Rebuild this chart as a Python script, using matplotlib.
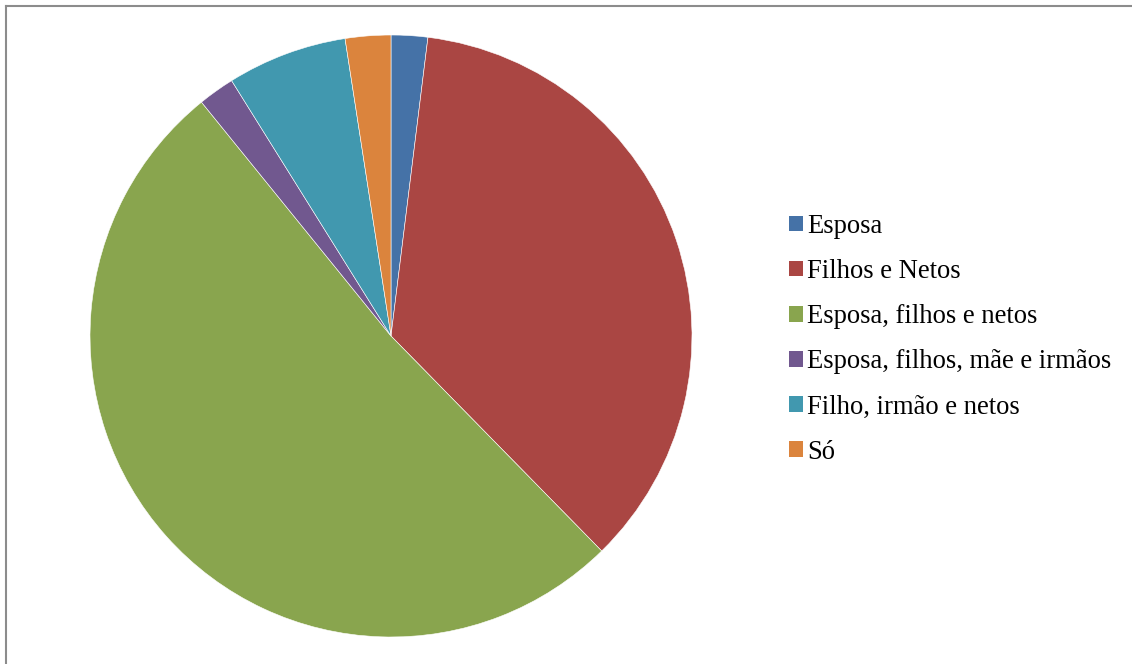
import matplotlib.pyplot as plt
from matplotlib.lines import Line2D
from matplotlib.patches import Patch

## Data ##

labels = ["Esposa", "Filhos e Netos", "Esposa, filhos e netos",
          "Esposa, filhos, mãe e irmãos", "Filho, irmão e netos", "Só"]
values = [1.96, 35.7, 51.5, 1.96, 6.44, 2.44]
colors = ["#4572A7", "#AA4643", "#89A54E", "#71588F", "#4198AF", "#DB843D"]

####

W, H = 1132, 664
fig = plt.figure(figsize=(W / 100, H / 100), dpi=100)
fig.patch.set_facecolor("white")

# pie axes, centre (391, 336) px, radius 301 px
cx, cy, r = 391, 336, 301
ax = fig.add_axes([(cx - r) / W, (H - cy - r) / H, 2 * r / W, 2 * r / H])
ax.pie(values, colors=colors, startangle=90, counterclock=False,
       wedgeprops=dict(edgecolor="white", linewidth=0.4), radius=1.0)
ax.set_xlim(-1, 1)
ax.set_ylim(-1, 1)
ax.set_aspect("equal")
ax.axis("off")

# legend
handles = [Patch(facecolor=c, edgecolor="none") for c in colors]
fig.legend(handles, labels, loc="upper left",
           bbox_to_anchor=(789 / W, 1 - 214 / H),
           frameon=False, prop={"family": "Liberation Serif", "size": 19.2},
           handlelength=0.52, handleheight=0.52, handletextpad=0.17,
           labelspacing=0.755, borderpad=0, borderaxespad=0)

# chart border (only top and left edges visible)
fig.add_artist(Line2D([5.5 / W, 5.5 / W], [0, 1 - 5.5 / H], color="#8c8c8c",
                      linewidth=1.5, transform=fig.transFigure))
fig.add_artist(Line2D([5.5 / W, 1], [1 - 5.5 / H, 1 - 5.5 / H], color="#8c8c8c",
                      linewidth=1.5, transform=fig.transFigure))

fig.savefig("out.png", dpi=100)
